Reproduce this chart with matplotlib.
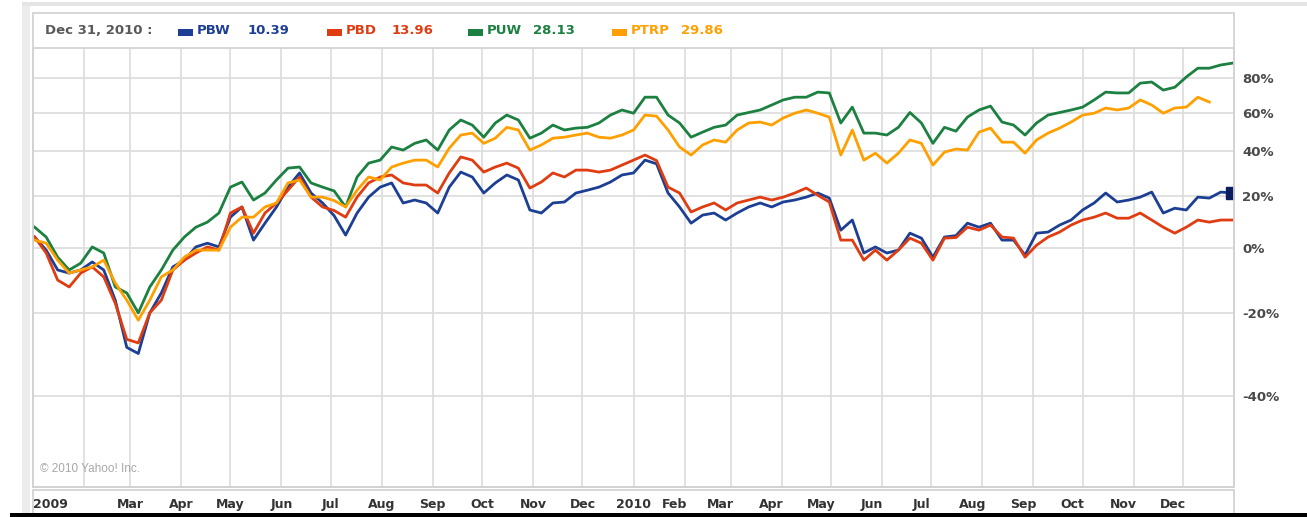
import numpy as np
import pandas as pd
import matplotlib
matplotlib.use("Agg")
import matplotlib.pyplot as plt
import matplotlib.dates as mdates
from matplotlib.patches import Rectangle
from matplotlib.lines import Line2D
import matplotlib.transforms as mtransforms

# weekly closes, % change since start of 2009
dates = pd.date_range("2009-01-02", periods=105, freq="7D")

pbw = [4.0, -0.6, -7.2, -8.2, -7.2, -4.6, -7.2, -16.4, -29.0, -30.5,
       -20.0, -14.3, -6.2, -4.0, 0.5, 1.8, 0.5, 11.4, 15.4, 2.9,
       9.1, 15.4, 23.6, 29.8, 21.1, 17.0, 12.0, 4.7, 13.0, 19.4,
       23.6, 25.4, 17.0, 18.2, 17.0, 13.0, 23.6, 30.2, 28.0, 21.1,
       25.4, 28.9, 26.7, 14.2, 13.0, 17.0, 17.4, 21.1, 22.3, 23.6,
       25.8, 28.9, 29.8, 35.7, 34.0, 21.1, 15.4, 9.1, 12.2, 13.0,
       10.3, 13.0, 15.4, 17.0, 15.4, 17.4, 18.2, 19.4, 21.1, 19.0,
       6.5, 10.3, -1.6, 0.5, -1.6, -0.6, 5.4, 3.6, -3.0, 4.0,
       4.5, 9.1, 7.6, 9.1, 2.9, 2.9, -2.3, 5.4, 5.8, 8.4,
       10.3, 14.2, 17.0, 21.1, 17.4, 18.2, 19.4, 21.5, 13.0, 14.9,
       14.2, 19.4, 19.0, 21.5, 21.1]

pbd = [4.0, -1.6, -10.4, -12.5, -8.2, -6.2, -9.4, -17.3, -27.0, -27.9,
       -20.0, -16.4, -7.2, -4.0, -1.6, 0.5, -0.6, 13.0, 15.4, 5.4,
       13.0, 17.0, 22.3, 28.0, 19.4, 15.4, 14.0, 11.4, 19.4, 25.4,
       28.0, 28.9, 25.4, 24.5, 24.5, 21.1, 29.8, 37.2, 35.7, 30.2,
       32.5, 34.3, 32.0, 23.2, 25.8, 29.8, 28.0, 31.1, 31.1, 30.2,
       31.1, 33.4, 35.7, 38.1, 35.5, 23.6, 21.1, 13.4, 15.4, 17.0,
       14.2, 17.0, 18.2, 19.4, 18.2, 19.4, 21.1, 23.2, 20.2, 17.4,
       2.9, 2.9, -4.0, -0.6, -4.0, -0.6, 3.6, 1.8, -4.0, 3.6,
       3.8, 7.6, 6.5, 8.4, 4.0, 3.6, -3.0, 1.1, 4.0, 5.8,
       8.4, 10.3, 11.4, 13.0, 11.0, 11.0, 13.0, 10.3, 7.6, 5.4,
       7.6, 10.3, 9.5, 10.3, 10.3]

puw = [7.6, 4.0, -3.0, -7.2, -5.0, 0.5, -1.6, -12.5, -14.3, -20.0,
       -12.5, -7.2, -0.6, 4.0, 7.6, 9.5, 13.0, 23.6, 25.8, 18.2,
       21.1, 26.7, 32.0, 32.5, 25.4, 23.6, 22.0, 15.4, 28.0, 34.3,
       35.7, 42.0, 40.5, 43.8, 45.5, 40.5, 50.6, 55.9, 53.2, 46.9,
       54.3, 58.6, 55.9, 46.4, 49.0, 53.2, 50.6, 51.6, 52.0, 54.3,
       58.6, 61.4, 59.6, 68.7, 68.7, 58.6, 54.3, 46.9, 49.5, 52.0,
       53.2, 58.6, 60.0, 61.4, 64.2, 67.1, 68.7, 68.7, 71.7, 71.2,
       54.3, 63.0, 49.0, 49.0, 48.0, 52.0, 60.0, 54.3, 43.8, 52.0,
       50.0, 57.5, 61.4, 63.6, 54.8, 53.2, 48.0, 54.3, 58.6, 60.0,
       61.4, 63.0, 67.1, 71.7, 71.2, 71.2, 77.1, 77.8, 72.9, 74.6,
       80.9, 86.5, 86.5, 88.6, 89.8]

ptrp = [2.9, 1.8, -4.0, -8.2, -7.2, -6.2, -4.0, -11.3, -16.4, -22.0,
        -16.4, -9.4, -7.2, -3.0, -0.6, -0.6, -0.6, 7.6, 11.4, 11.4,
        15.4, 17.0, 25.4, 26.7, 19.4, 19.4, 18.0, 15.4, 22.3, 28.0,
        26.7, 32.5, 34.3, 35.7, 35.7, 32.5, 41.4, 48.0, 49.0, 43.8,
        46.4, 52.0, 50.6, 40.5, 43.0, 46.4, 46.9, 48.0, 49.0, 46.9,
        46.4, 48.0, 50.6, 58.6, 58.0, 50.6, 42.0, 38.1, 43.0, 45.5,
        44.4, 50.6, 54.3, 54.8, 53.2, 57.0, 59.6, 61.4, 59.6, 57.5,
        38.1, 50.6, 35.7, 39.0, 34.3, 39.0, 45.5, 43.8, 33.4, 39.5,
        41.0, 40.5, 49.5, 51.6, 44.4, 44.4, 39.0, 45.5, 49.0, 51.6,
        54.8, 58.6, 59.6, 62.5, 61.4, 62.5, 67.1, 64.2, 59.6, 62.5,
        63.0, 68.7, 65.9, np.nan, np.nan]

tickers = ["PBW", "PBD", "PUW", "PTRP"]
last_prices = ["10.39", "13.96", "28.13", "29.86"]
colors = ["#1c3f94", "#e03c12", "#1b8040", "#ffa000"]

month_ticks = pd.date_range("2009-01-01", "2010-12-01", freq="MS")
month_labels = ["2009", "", "Mar", "Apr", "May", "Jun", "Jul", "Aug", "Sep",
                "Oct", "Nov", "Dec", "2010", "Feb", "Mar", "Apr", "May",
                "Jun", "Jul", "Aug", "Sep", "Oct", "Nov", "Dec"]
y_ticks = [-40, -20, 0, 20, 40, 60, 80]

W, H = 1307, 517
GRID = "#dedede"
FRAME = "#d3d3d3"


def fx(px):
    return px / W


def fy(py):
    return 1 - py / H


fig = plt.figure(figsize=(W / 100, H / 100), dpi=100)
fig.patch.set_facecolor("white")

ax = fig.add_axes([fx(33), fy(487), fx(1234) - fx(33), fy(48) - fy(487)])

series = {"PUW": puw, "PBW": pbw, "PBD": pbd, "PTRP": ptrp}
for name in ["PUW", "PBW", "PBD", "PTRP"]:
    vals = 1 + np.array(series[name]) / 100.0
    ax.plot(dates, vals, color=colors[tickers.index(name)], lw=2.0,
            solid_joinstyle="round", zorder=3)

# end marker on PBW
ax.plot(dates[-1:], [1 + pbw[-1] / 100.0], marker="s", ms=8,
        color="#0b1d5e", zorder=5, clip_on=True)

ax.set_yscale("log")
ax.set_ylim(0.438, 2.0)
ax.set_xlim(pd.Timestamp("2009-01-01"), pd.Timestamp("2011-01-01"))

ax.set_yticks([1 + v / 100.0 for v in y_ticks])
ax.set_yticklabels([f"{v}%" for v in y_ticks])
ax.yaxis.set_minor_locator(matplotlib.ticker.NullLocator())
ax.yaxis.tick_right()
ax.tick_params(axis="y", length=0, pad=6, labelsize=9.5,
               labelcolor="#4a4a4a")
for lab in ax.get_yticklabels():
    lab.set_fontweight("bold")

ax.set_xticks(month_ticks)
ax.set_xticklabels(month_labels)
ax.tick_params(axis="x", length=0, pad=8, labelsize=9, labelcolor="#333333")
for i, lab in enumerate(ax.get_xticklabels()):
    lab.set_fontweight("bold")
    if i == 0:
        lab.set_horizontalalignment("left")
    elif i >= 13:
        lab.set_transform(lab.get_transform() + mtransforms.ScaledTranslation(
            -10 / 100, 0, fig.dpi_scale_trans))

ax.grid(True, color=GRID, lw=1.3, zorder=0)
for sp in ax.spines.values():
    sp.set_color(FRAME)
    sp.set_linewidth(1.3)

ax.text(0.006, 0.035, "\u00a9 2010 Yahoo! Inc.", transform=ax.transAxes,
        fontsize=8.5, color="#a8a8a8", family="Liberation Sans")

# page furniture: outer frame, header box, label strip, grey edges
fig.add_artist(Rectangle((fx(33), fy(487)), fx(1234) - fx(33),
                         fy(13) - fy(487), fill=False, ec=FRAME, lw=1.3))
fig.add_artist(Rectangle((fx(33), fy(514)), fx(1234) - fx(33),
                         fy(490) - fy(514), fill=False, ec=FRAME, lw=1.3))
fig.add_artist(Rectangle((fx(22), fy(514)), fx(30) - fx(22),
                         fy(4) - fy(514), color="#ececec", lw=0))
fig.add_artist(Rectangle((fx(22), fy(6)), 1 - fx(22), fy(2) - fy(6),
                         color="#e4e4e4", lw=0))
fig.add_artist(Rectangle((fx(10), 0), 1 - fx(10), fy(513),
                         color="black", lw=0))

# header legend
hy = fy(30)
fig.text(fx(45), hy, "Dec 31, 2010 :", fontsize=9.5, fontweight="bold",
         color="#58595b", va="center")
legend_x = [178, 327, 468, 612]
for x0, name, price, c in zip(legend_x, tickers, last_prices, colors):
    fig.add_artist(Rectangle((fx(x0), fy(36)), fx(15), fy(29) - fy(36),
                             color=c, lw=0))
    fig.text(fx(x0 + 19), hy, name, fontsize=9.5, fontweight="bold",
             color=c, va="center")
    off = 50 if name == "PTRP" else 46 if name != "PBW" else 51
    fig.text(fx(x0 + 19 + off), hy, price, fontsize=9.5, fontweight="bold",
             color=c, va="center")

fig.savefig("out.png", dpi=100)
